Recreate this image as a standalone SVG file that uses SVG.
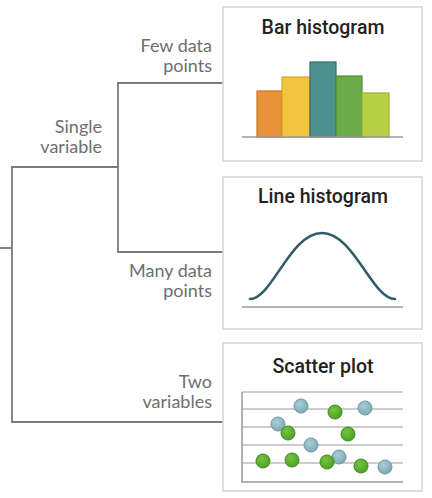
<svg xmlns="http://www.w3.org/2000/svg" width="432" height="498" viewBox="0 0 432 498">
  <style>
    .panel { fill: #ffffff; stroke: #d6d6d6; stroke-width: 1.6; }
    .title { font-family: Roboto, "Liberation Sans", Arial, sans-serif; font-weight: 500; font-size: 19.5px; fill: #222; text-anchor: middle; }
    .label { font-family: Lato, "Noto Sans", sans-serif; font-size: 18px; fill: #6e6e6e; text-anchor: end; }
    .conn { fill: none; stroke: #7a7a7a; stroke-width: 1.8; }
    .axis { stroke: #9a9a9a; stroke-width: 1.5; fill: none; }
    .grid { stroke: #bdbdbd; stroke-width: 1.5; }
    .bar { stroke-width: 1.2; }
    .blue { fill: url(#gBlue); stroke: #6e98a3; stroke-width: 1; }
    .green { fill: url(#gGreen); stroke: #3f8a22; stroke-width: 1; }
  </style>
  <defs>
    <radialGradient id="gBlue" cx="0.4" cy="0.35" r="0.7">
      <stop offset="0" stop-color="#a9cdd6"/>
      <stop offset="1" stop-color="#7aa7b3"/>
    </radialGradient>
    <radialGradient id="gGreen" cx="0.4" cy="0.35" r="0.7">
      <stop offset="0" stop-color="#74c441"/>
      <stop offset="1" stop-color="#4c9e25"/>
    </radialGradient>
  </defs>

  <rect width="432" height="498" fill="#ffffff"/>

  <!-- decision tree connectors -->
  <g id="connectors">
    <path class="conn" d="M0,248 H12"/>
    <path class="conn" d="M223,83 H118 V252 H223"/>
    <path class="conn" d="M118,167 H12 V422 H223"/>
  </g>

  <!-- branch labels -->
  <g id="labels">
    <text class="label" x="102" y="133">Single</text>
    <text class="label" x="102" y="153">variable</text>
    <text class="label" x="212" y="52">Few data</text>
    <text class="label" x="212" y="72">points</text>
    <text class="label" x="212" y="277">Many data</text>
    <text class="label" x="212" y="297">points</text>
    <text class="label" x="212" y="388">Two</text>
    <text class="label" x="212" y="408">variables</text>
  </g>

  <!-- bar histogram panel -->
  <g id="bar-histogram">
    <rect class="panel" x="223" y="7" width="199" height="154"/>
    <text class="title" x="323" y="34">Bar histogram</text>
    <rect class="bar" x="257" y="91" width="25" height="46" fill="#e8923a" stroke="#c9741f"/>
    <rect class="bar" x="282" y="77" width="28" height="60" fill="#f2c540" stroke="#d9a626"/>
    <rect class="bar" x="310" y="62" width="26" height="75" fill="#4d928f" stroke="#2e6f6c"/>
    <rect class="bar" x="336" y="76" width="26" height="61" fill="#6bab4a" stroke="#4e8c32"/>
    <rect class="bar" x="362" y="93" width="27" height="44" fill="#b6d146" stroke="#98b530"/>
    <line class="axis" x1="242" y1="137" x2="403" y2="137"/>
  </g>

  <!-- line histogram panel -->
  <g id="line-histogram">
    <rect class="panel" x="223" y="177" width="199" height="152"/>
    <text class="title" x="323" y="203">Line histogram</text>
    <path d="M250,299 C272,299 290,233 322,233 C354,233 372,299 395,299" fill="none" stroke="#2f5d68" stroke-width="2.6" stroke-linecap="round"/>
    <line class="axis" x1="242" y1="307" x2="403" y2="307"/>
  </g>

  <!-- scatter plot panel -->
  <g id="scatter-plot">
    <rect class="panel" x="223" y="343" width="199" height="148"/>
    <text class="title" x="323" y="373">Scatter plot</text>
    <line class="grid" x1="242" y1="392" x2="403" y2="392"/>
    <line class="grid" x1="242" y1="409" x2="403" y2="409"/>
    <line class="grid" x1="242" y1="427" x2="403" y2="427"/>
    <line class="grid" x1="242" y1="445" x2="403" y2="445"/>
    <line class="grid" x1="242" y1="463" x2="403" y2="463"/>
    <path class="axis" d="M242,392 V482 H403"/>
    <circle class="blue" cx="301" cy="406" r="7"/>
    <circle class="green" cx="335" cy="412" r="7"/>
    <circle class="blue" cx="365" cy="408" r="7"/>
    <circle class="blue" cx="278" cy="424" r="7"/>
    <circle class="green" cx="288" cy="433" r="7"/>
    <circle class="green" cx="348" cy="434" r="7"/>
    <circle class="blue" cx="311" cy="445" r="7"/>
    <circle class="green" cx="263" cy="461" r="7"/>
    <circle class="green" cx="292" cy="460" r="7"/>
    <circle class="blue" cx="339" cy="457" r="7"/>
    <circle class="green" cx="327" cy="462" r="7"/>
    <circle class="green" cx="361" cy="466" r="7"/>
    <circle class="blue" cx="385" cy="467" r="7"/>
  </g>
</svg>
